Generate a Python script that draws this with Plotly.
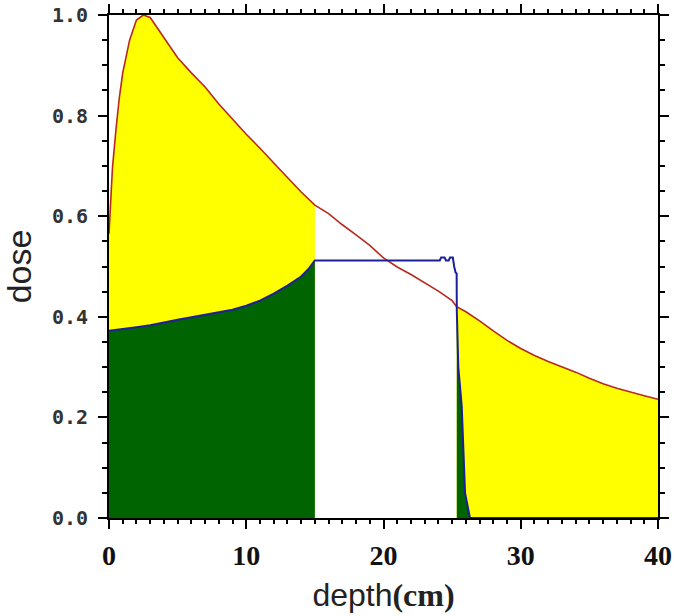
import plotly.graph_objects as go

# ---- data ----
red_depth = [0, 0.25, 0.5, 0.75, 1.0, 1.5, 2.0, 2.5, 3.0, 4, 5, 6, 7, 8, 9, 10,
             11, 12, 13, 14, 15, 16, 17, 18, 19, 20, 21, 22, 23, 24, 25, 25.33,
             26, 27, 28, 29, 30, 31, 32, 33, 34, 35, 36, 37, 38, 39, 40]
red_dose = [0.565, 0.695, 0.77, 0.835, 0.885, 0.95, 0.99, 1.0, 0.995, 0.955, 0.915,
            0.885, 0.857, 0.823, 0.792, 0.763, 0.735, 0.705, 0.677, 0.648, 0.622,
            0.605, 0.583, 0.563, 0.542, 0.517, 0.499, 0.484, 0.468, 0.451, 0.432, 0.42,
            0.41, 0.392, 0.372, 0.353, 0.337, 0.323, 0.311, 0.301, 0.29, 0.278,
            0.267, 0.258, 0.25, 0.243, 0.236]

blue_depth = [0, 1, 2, 3, 4, 5, 6, 7, 8, 9, 10, 11, 12, 13, 14, 14.5, 15, 16, 18,
              20, 22, 24, 24.1, 24.2, 24.45, 24.55, 24.75, 24.85, 25.05, 25.15, 25.25,
              25.33, 25.34, 25.45, 25.7, 25.94, 26.3, 28, 30, 32, 34, 36, 38, 40]
blue_dose = [0.372, 0.375, 0.379, 0.383, 0.389, 0.394, 0.399, 0.404, 0.409, 0.414,
             0.422, 0.432, 0.446, 0.462, 0.48, 0.494, 0.512, 0.512, 0.512, 0.512,
             0.512, 0.512, 0.512, 0.518, 0.518, 0.512, 0.512, 0.518, 0.518, 0.5,
             0.488, 0.486, 0.414, 0.30, 0.222, 0.05, 0.0, 0.0, 0.0, 0.0, 0.0, 0.0,
             0.0, 0.0]

x_ticks = [0, 10, 20, 30, 40]
y_ticks = [0.0, 0.2, 0.4, 0.6, 0.8, 1.0]
y_tick_text = ["0.0", "0.2", "0.4", "0.6", "0.8", "1.0"]

shade_end = 15.0      # end of first shaded region
shade_start = 25.33   # start of second shaded region

YELLOW = "#FFFF00"
GREEN = "#006400"
RED = "#B82A1E"
BLUE = "#1E1E9A"


def pick(xs, ys, cond):
    pts = [(x, y) for x, y in zip(xs, ys) if cond(x)]
    return [p[0] for p in pts], [p[1] for p in pts]


fig = go.Figure()

for cond in (lambda x: x <= shade_end, lambda x: x >= shade_start):
    xr, yr = pick(red_depth, red_dose, cond)
    fig.add_trace(go.Scatter(x=xr, y=yr, mode="lines", fill="tozeroy",
                             fillcolor=YELLOW, line=dict(width=0, color=YELLOW),
                             hoverinfo="skip", showlegend=False))

for cond in (lambda x: x <= shade_end, lambda x: x >= shade_start + 0.005):
    xb, yb = pick(blue_depth, blue_dose, cond)
    fig.add_trace(go.Scatter(x=xb, y=yb, mode="lines", fill="tozeroy",
                             fillcolor=GREEN, line=dict(width=0, color=GREEN),
                             hoverinfo="skip", showlegend=False))

fig.add_trace(go.Scatter(x=red_depth, y=red_dose, mode="lines",
                         line=dict(color=RED, width=1.6), showlegend=False))
fig.add_trace(go.Scatter(x=blue_depth, y=blue_dose, mode="lines",
                         line=dict(color=BLUE, width=2), showlegend=False))

axis_common = dict(
    showline=True, linecolor="black", linewidth=2, mirror="ticks",
    ticks="outside", tickcolor="black", tickwidth=2, ticklen=9,
    showgrid=False, zeroline=False,
)

fig.update_xaxes(
    **axis_common,
    range=[0, 40], tickvals=x_ticks,
    tickfont=dict(family="Liberation Serif", size=28, color="#111", weight="bold"),
    ticklabelstandoff=2,
    minor=dict(dtick=1, ticks="outside", ticklen=4, tickwidth=1.5, tickcolor="black"),
    title=dict(
        text="depth<span style=\"font-family:Liberation Serif\"><b>(cm)</b></span>",
        font=dict(family="Liberation Sans", size=32, color="#222"),
        standoff=14,
    ),
)
fig.update_yaxes(
    **axis_common,
    range=[0, 1.0], tickvals=y_ticks, ticktext=y_tick_text,
    tickfont=dict(family="DejaVu Sans Mono", size=20, color="#333", weight="bold"),
    ticklabelstandoff=6,
    minor=dict(dtick=0.05, ticks="outside", ticklen=5, tickwidth=1.5, tickcolor="black"),
    title=dict(text="dose", font=dict(family="Liberation Sans", size=34, color="#222"),
               standoff=18),
)

fig.update_layout(
    width=674, height=616,
    margin=dict(l=109, r=16, t=15, b=98, autoexpand=False),
    paper_bgcolor="white", plot_bgcolor="white",
    showlegend=False,
)

# remove the default page margin so the figure fills the window exactly
fig.write_html(
    "out.html",
    config={"displayModeBar": False},
    post_script="document.body.style.margin='0';document.body.style.overflow='hidden';",
)
